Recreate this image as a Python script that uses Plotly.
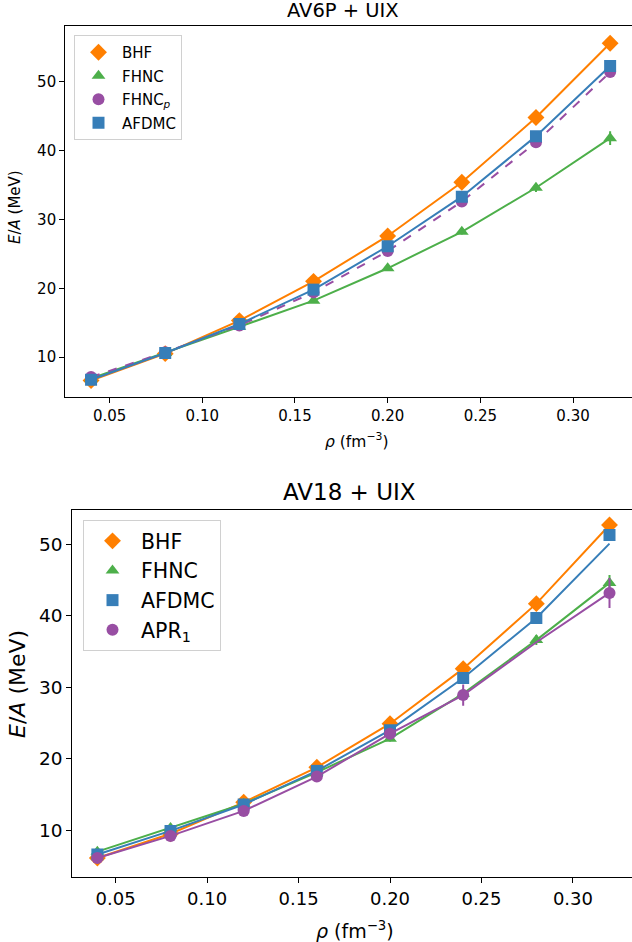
import plotly.graph_objects as go

# ---------------- data ----------------
rho = [0.04, 0.08, 0.12, 0.16, 0.20, 0.24, 0.28, 0.32]
x_ticks = [0.05, 0.10, 0.15, 0.20, 0.25, 0.30]
y_ticks = [10, 20, 30, 40, 50]

# AV6P + UIX
top_bhf = [6.6, 10.5, 15.3, 21.0, 27.6, 35.4, 44.8, 55.6]
top_fhnc = [6.9, 10.6, 14.4, 18.2, 22.9, 28.2, 34.6, 41.8]
top_fhnc_err = [0.1, 0.1, 0.1, 0.2, 0.3, 0.4, 0.6, 1.0]
top_fhncp = [7.1, 10.7, 14.6, 19.4, 25.4, 32.6, 41.2, 51.4]
top_fhncp_err = [0.1, 0.1, 0.1, 0.1, 0.2, 0.2, 0.3, 0.4]
top_afdmc = [6.7, 10.6, 14.8, 19.8, 26.1, 33.3, 42.1, 52.3]
top_afdmc_err = [0.05, 0.05, 0.1, 0.1, 0.1, 0.2, 0.2, 0.3]

# AV18 + UIX
bot_bhf = [6.1, 9.5, 13.9, 18.8, 24.9, 32.6, 41.7, 52.7]
bot_fhnc = [7.0, 10.3, 13.7, 18.1, 22.8, 29.1, 36.6, 44.6]
bot_fhnc_err = [0.3, 0.2, 0.2, 0.3, 0.4, 0.5, 0.7, 1.1]
bot_afdmc = [6.6, 9.9, 13.6, 18.3, 24.0, 31.3, 39.7, 51.3]
bot_afdmc_err = [0.05, 0.05, 0.1, 0.1, 0.2, 0.3, 0.3, 0.4]
bot_afdmc_line = [6.6, 9.9, 13.6, 18.3, 24.0, 31.3, 39.7, 50.1]
bot_apr = [6.1, 9.2, 12.7, 17.5, 23.5, 28.9, None, 43.2]
bot_apr_err = [0.1, 0.2, 0.3, 0.4, 0.6, 1.5, None, 2.1]
bot_apr_line = [6.1, 9.2, 12.7, 17.5, 23.5, 28.9, 36.3, 43.2]

ORANGE = "#ff7f00"
GREEN = "#4daf4a"
PURPLE = "#984ea3"
BLUE = "#377eb8"
FONT = "DejaVu Sans"

fig = go.Figure()


def add_series(name, y, color, symbol, size, xa, ya, leg, err=None,
               line_y=None, dash="solid", group=None):
    ly = line_y if line_y is not None else y
    fig.add_trace(go.Scatter(
        x=rho, y=ly, mode="lines", xaxis=xa, yaxis=ya,
        line=dict(color=color, width=2, dash=dash),
        showlegend=False, hoverinfo="skip", connectgaps=True))
    tr = dict(
        x=rho, y=y, mode="markers", name=name, xaxis=xa, yaxis=ya,
        marker=dict(color=color, symbol=symbol, size=size, line=dict(width=0)),
        legend=leg, legendgroup=group or name)
    if err is not None:
        tr["error_y"] = dict(type="data", array=err, visible=True,
                             color=color, thickness=2, width=0)
    fig.add_trace(go.Scatter(**tr))


# top panel
add_series("BHF", top_bhf, ORANGE, "diamond", 13, "x", "y", "legend", group="t1")
add_series("FHNC", top_fhnc, GREEN, "triangle-up", 12, "x", "y", "legend",
           err=top_fhnc_err, group="t2")
add_series("FHNC<sub><i>p</i></sub>", top_fhncp, PURPLE, "circle", 12, "x", "y",
           "legend", err=top_fhncp_err, dash="dash", group="t3")
add_series("AFDMC", top_afdmc, BLUE, "square", 12, "x", "y", "legend",
           err=top_afdmc_err, group="t4")

# bottom panel
add_series("BHF", bot_bhf, ORANGE, "diamond", 13, "x2", "y2", "legend2", group="b1")
add_series("FHNC", bot_fhnc, GREEN, "triangle-up", 12, "x2", "y2", "legend2",
           err=bot_fhnc_err, group="b2")
add_series("AFDMC", bot_afdmc, BLUE, "square", 12, "x2", "y2", "legend2",
           err=bot_afdmc_err, line_y=bot_afdmc_line, group="b3")
add_series("APR<sub>1</sub>", bot_apr, PURPLE, "circle", 12, "x2", "y2", "legend2",
           err=bot_apr_err, line_y=bot_apr_line, group="b4")

W, H = 632, 942


def px(v):
    return v / W


def py(v):
    return (H - v) / H


axis_common = dict(showline=True, linecolor="black", linewidth=1.2,
                   ticks="outside", ticklen=5, tickwidth=1, tickcolor="black",
                   showgrid=False, zeroline=False)


def ann(text, x, y, size, angle=0):
    return dict(text=text, x=px(x), y=py(y), xref="paper", yref="paper",
                xanchor="center", yanchor="middle", showarrow=False,
                textangle=angle, font=dict(size=size))


fig.update_layout(
    width=W, height=H,
    margin=dict(l=0, r=0, t=0, b=0),
    paper_bgcolor="white", plot_bgcolor="white",
    font=dict(family=FONT, color="black"),
    xaxis=dict(domain=[px(65.3), 1], range=[0.0261, 0.3318], anchor="y",
               tickvals=x_ticks, tickformat=".2f", mirror=True,
               tickfont=dict(size=15), **axis_common),
    yaxis=dict(domain=[py(397), py(26)], range=[4.2, 58.1], anchor="x",
               tickvals=y_ticks, tickfont=dict(size=15), **axis_common),
    xaxis2=dict(domain=[px(72.3), 1], range=[0.0263, 0.3323], anchor="y2",
                tickvals=x_ticks, tickformat=".2f", mirror=True,
                tickfont=dict(size=18), **axis_common),
    yaxis2=dict(domain=[py(877), py(510)], range=[3.45, 54.8], anchor="x2",
                tickvals=y_ticks, tickfont=dict(size=18.5), **axis_common),
    legend=dict(x=px(74), y=py(35), xanchor="left", yanchor="top",
                bgcolor="white", bordercolor="#d0d0d0", borderwidth=1,
                font=dict(size=15), tracegroupgap=1, itemwidth=37),
    legend2=dict(x=px(83), y=py(520), xanchor="left", yanchor="top",
                 bgcolor="white", bordercolor="#d0d0d0", borderwidth=1,
                 font=dict(size=20.5), tracegroupgap=0, itemwidth=47),
    annotations=[
        ann("AV6P + UIX", 343, 11, 19.5),
        ann("AV18 + UIX", 350, 492, 23),
        ann("<i>E</i>/<i>A</i> (MeV)", 15, 207, 15, -90),
        ann("<i>E</i>/<i>A</i> (MeV)", 17, 684, 22, -90),
        ann("<i>ρ</i> (fm<sup>−3</sup>)", 356, 440, 15.5),
        ann("<i>ρ</i> (fm<sup>−3</sup>)", 355, 930, 19),
    ],
)

fig.write_html("out.html", config={"displayModeBar": False},
               post_script="document.body.style.margin='0px';")
